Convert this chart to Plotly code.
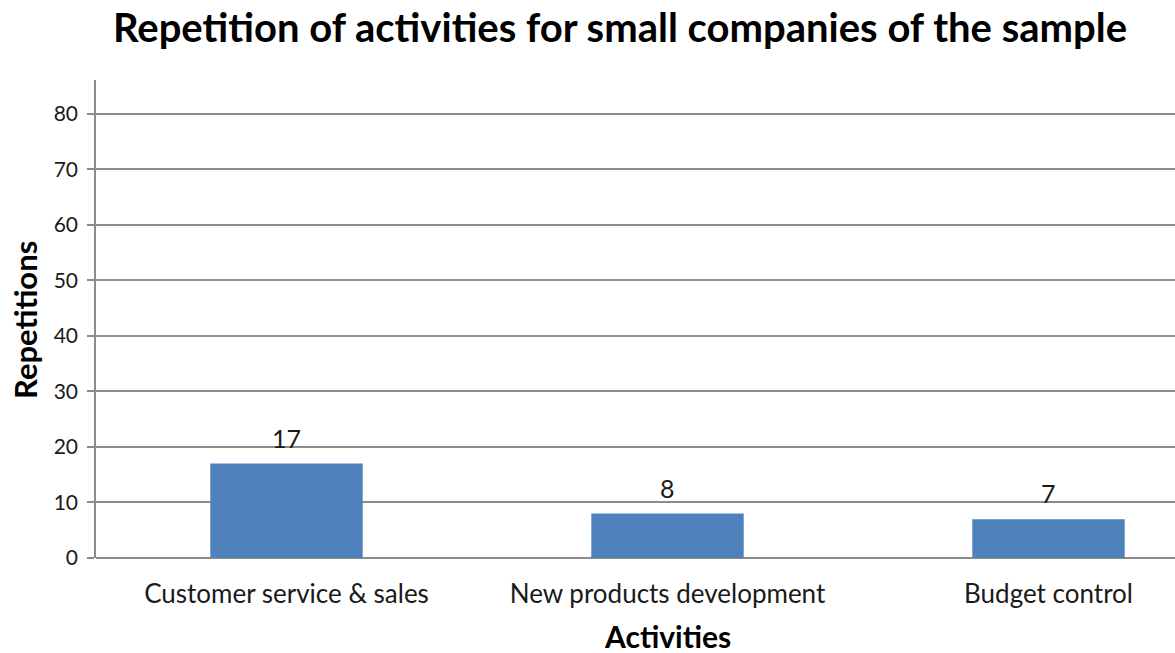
import plotly.graph_objects as go

activities = ["Customer service & sales", "New products development", "Budget control"]
repetitions = [17, 8, 7]
y_ticks = [0, 10, 20, 30, 40, 50, 60, 70, 80]

FONT = "Lato"
BAR_COLOR = "#4F81BD"
GRID = "#8C8C8C"
W, H = 1175, 653
L, T, B = 96, 80, 95
PW, PH = W - L, H - T - B


def px_to_paper(px, py):
    return (px - L) / PW, (H - B - py) / PH


fig = go.Figure(
    go.Bar(
        x=list(range(len(activities))),
        y=repetitions,
        marker=dict(color=BAR_COLOR, line=dict(width=0)),
        width=0.4,
        hoverinfo="skip",
    )
)

# value labels above each bar
for i, v in enumerate(repetitions):
    fig.add_annotation(
        x=i, y=v, xref="x", yref="y", text=str(v), showarrow=False,
        yanchor="bottom", yshift=9, font=dict(family=FONT, size=25, color="#1a1a1a"),
    )

fig.add_annotation(
    x=1, y=0, xref="x", yref="paper", text="<b>Activities</b>", showarrow=False,
    xanchor="center", yanchor="middle", yshift=-(636 - (H - B)),
    font=dict(family=FONT, size=30, color="#000000"),
)
ax, ay = px_to_paper(25, 320)
fig.add_annotation(
    x=ax, y=ay, xref="paper", yref="paper", text="<b>Repetitions</b>",
    showarrow=False, textangle=-90, xanchor="center", yanchor="middle",
    font=dict(family=FONT, size=31, color="#000000"),
)

fig.update_layout(
    width=W, height=H,
    margin=dict(l=L, r=0, t=T, b=B),
    paper_bgcolor="white", plot_bgcolor="white",
    showlegend=False,
    title=dict(
        text="<b>Repetition of activities for small companies of the sample</b>",
        x=620 / W, xanchor="center", xref="container",
        y=1 - 28 / H, yanchor="middle", yref="container",
        font=dict(family=FONT, size=40, color="#000000"),
    ),
    xaxis=dict(
        range=[-0.5, PW / 381 - 0.5],
        tickmode="array", tickvals=list(range(len(activities))), ticktext=activities,
        showgrid=False, zeroline=False, showline=False, ticks="",
        tickfont=dict(family=FONT, size=26, color="#1a1a1a"),
        ticklabelstandoff=18,
    ),
    yaxis=dict(
        range=[0, 86.1],
        tickmode="array", tickvals=y_ticks,
        showgrid=True, gridcolor=GRID, gridwidth=1.5,
        zeroline=True, zerolinecolor=GRID, zerolinewidth=1.5,
        showline=True, linecolor=GRID, linewidth=1.5,
        ticks="outside", ticklen=7, tickcolor=GRID, tickwidth=1.5,
        tickfont=dict(family=FONT, size=21, color="#1a1a1a"),
        ticklabelstandoff=5,
    ),
)

fig.write_html("out.html")
